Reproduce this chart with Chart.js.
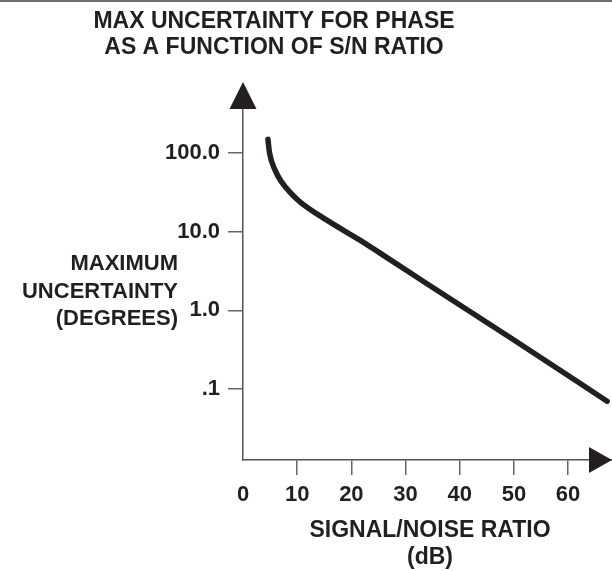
<!DOCTYPE html>
<html>
<head>
<meta charset="utf-8">
<script src="https://cdn.jsdelivr.net/npm/chart.js@4.4.1/dist/chart.umd.min.js"></script>
<style>
    html, body { margin: 0; padding: 0; background: #fff; }
    canvas { display: block; }
</style>
</head>
<body>
<canvas id="grafico" width="612" height="571"></canvas>
<script>
// valores
const snrDb = [4.6, 4.9, 5.9, 7.1, 8.6, 10.5, 15.4, 21.5, 27.7, 33.8, 50, 67.2];
const incertezaGraus = [149, 100, 61, 43, 32, 24, 14.1, 7.85, 4.16, 2.21, 0.42, 0.070];
const ticksX = [0, 10, 20, 30, 40, 50, 60];
const ticksY = [0.1, 1, 10, 100];
const rotulosY = {0.1: '.1', 1: '1.0', 10: '10.0', 100: '100.0'};

const tituloLinhas = ['MAX UNCERTAINTY FOR PHASE', 'AS A FUNCTION OF S/N RATIO'];
const tituloY = ['MAXIMUM', 'UNCERTAINTY', '(DEGREES)'];
const tituloX = ['SIGNAL/NOISE RATIO', '(dB)'];

const fonte = "'Liberation Sans', Arial, sans-serif";
const corTexto = '#231f20';

// desenha titulo, textos dos eixos e as setas
const extras = {
    id: 'extras',
    afterDraw(chart) {
        const ctx = chart.ctx;
        const area = chart.chartArea;
        ctx.save();

        // borda cinza no topo
        ctx.fillStyle = '#6d6d6d';
        ctx.fillRect(0, 0, chart.width, 2);

        ctx.fillStyle = corTexto;
        ctx.font = 'bold 23px ' + fonte;
        ctx.textAlign = 'center';
        ctx.textBaseline = 'middle';
        tituloLinhas.forEach((t, i) => ctx.fillText(t, 274, 22 + i * 26));

        ctx.font = 'bold 22px ' + fonte;
        ctx.textAlign = 'right';
        tituloY.forEach((t, i) => ctx.fillText(t, 178, 264 + i * 27.5));

        ctx.font = 'bold 23px ' + fonte;
        ctx.textAlign = 'center';
        tituloX.forEach((t, i) => ctx.fillText(t, 430, 531 + i * 27));

        // setas
        const x0 = area.left;
        ctx.beginPath();
        ctx.moveTo(x0, area.top - 27);
        ctx.lineTo(x0 - 13.5, area.top);
        ctx.lineTo(x0 + 13.5, area.top);
        ctx.closePath();
        ctx.fill();

        const y0 = area.bottom;
        ctx.beginPath();
        ctx.moveTo(area.right, y0);
        ctx.lineTo(area.right - 23, y0 - 13);
        ctx.lineTo(area.right - 23, y0 + 13);
        ctx.closePath();
        ctx.fill();

        ctx.restore();
    }
};

const ctxGrafico = document.getElementById('grafico').getContext('2d');

new Chart(ctxGrafico, {
    type: 'line',
    data: {
        datasets: [{
            label: 'Incerteza máxima',
            data: snrDb.map((x, i) => ({ x: x, y: incertezaGraus[i] })),
            borderColor: corTexto,
            borderWidth: 5.5,
            borderCapStyle: 'round',
            pointRadius: 0,
            cubicInterpolationMode: 'monotone',
            clip: false
        }]
    },
    options: {
        responsive: false,
        animation: false,
        layout: {
            padding: { top: 109, right: 0, left: 0, bottom: 0 }
        },
        plugins: {
            legend: { display: false },
            title: { display: false },
            tooltip: { enabled: false }
        },
        scales: {
            x: {
                type: 'linear',
                min: 0,
                max: 68.1,
                afterBuildTicks: axis => { axis.ticks = ticksX.map(v => ({ value: v })); },
                afterFit: axis => { axis.height = 111; },
                border: { display: true, color: '#555', width: 1.5 },
                grid: {
                    drawOnChartArea: false,
                    drawTicks: true,
                    tickLength: 15,
                    lineWidth: 1.5,
                    color: c => c.index === 0 ? 'rgba(0,0,0,0)' : '#666'
                },
                ticks: {
                    color: corTexto,
                    padding: 7,
                    maxRotation: 0,
                    font: { family: fonte, weight: 'bold', size: 22 }
                }
            },
            y: {
                type: 'logarithmic',
                min: 0.01252,
                max: 362.4,
                afterBuildTicks: axis => { axis.ticks = ticksY.map(v => ({ value: v })); },
                afterFit: axis => { axis.width = 243; },
                border: { display: true, color: '#555', width: 1.5 },
                grid: {
                    drawOnChartArea: false,
                    drawTicks: true,
                    tickLength: 15,
                    lineWidth: 1.5,
                    color: '#666'
                },
                ticks: {
                    color: corTexto,
                    padding: 8,
                    font: { family: fonte, weight: 'bold', size: 22 },
                    callback: v => rotulosY[v] || ''
                }
            }
        }
    },
    plugins: [extras]
});
</script>
</body>
</html>
